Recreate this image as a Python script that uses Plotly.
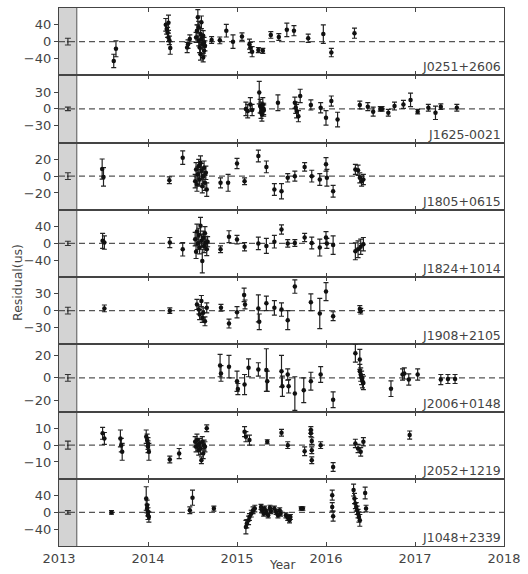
import plotly.graph_objects as go
from plotly.subplots import make_subplots

pulsars = ["J0251+2606", "J1625-0021", "J1805+0615", "J1824+1014",
           "J1908+2105", "J2006+0148", "J2052+1219", "J1048+2339"]
y_ranges = [[-80, 80], [-60, 60], [-40, 40], [-80, 80], [-60, 60], [-30, 30], [-20, 20], [-80, 80]]
y_ticks = [[-40, 0, 40], [-30, 0, 30], [-20, 0, 20], [-40, 0, 40], [-30, 0, 30], [-20, 0, 20], [-10, 0, 10], [-40, 0, 40]]
x_ticks = [2013, 2014, 2015, 2016, 2017, 2018]
band = [2013.0, 2013.2]
ref_year = 2013.1
ref_err = [8, 3, 4, 5, 6, 3, 2.4, 4]

# J0251+2606
t1 = [2013.615, 2013.64, 2014.20, 2014.21, 2014.22, 2014.23, 2014.23, 2014.24, 2014.25,
      2014.44, 2014.45, 2014.47,
      2014.54, 2014.55, 2014.56, 2014.57, 2014.57, 2014.58, 2014.59, 2014.59, 2014.60, 2014.60,
      2014.61, 2014.62, 2014.62, 2014.63, 2014.63, 2014.64,
      2014.715, 2014.807, 2014.88, 2014.955, 2015.056, 2015.14, 2015.15, 2015.17, 2015.24, 2015.29,
      2015.38, 2015.47, 2015.56, 2015.64, 2015.80, 2015.97, 2016.06, 2016.32]
r1 = [-46, -17, 40, 30, 22, 45, 10, 3, -15,
      -14, -6, 6,
      10, 26, 58, 2, 34, -14, 18, -30, 46, 6, -6, 14, -38, -2, -22, -10,
      4, 3, 26, 0, 12, -6, -14, -24, -20, -22, 16, 11, 28, 26, 8, 18, -26, 20]
e1 = [16, 19, 15, 12, 12, 18, 10, 10, 15,
      12, 10, 10,
      12, 14, 18, 12, 14, 12, 12, 14, 15, 12, 12, 12, 10, 12, 12, 12,
      8, 8, 15, 16, 9, 12, 12, 12, 6, 6, 8, 8, 16, 12, 10, 22, 10, 12]

# J1625-0021
t2 = [2015.10, 2015.12, 2015.15, 2015.17,
      2015.25, 2015.26, 2015.27, 2015.27, 2015.28, 2015.29, 2015.30, 2015.30,
      2015.46, 2015.65, 2015.66, 2015.67, 2015.69, 2015.71, 2015.83, 2015.94, 2016.00, 2016.06, 2016.13,
      2016.38, 2016.47, 2016.53, 2016.61, 2016.63, 2016.70, 2016.77, 2016.87, 2016.95, 2017.03,
      2017.15, 2017.23, 2017.29, 2017.47]
r2 = [0, -4, 8, -2,
      29, 5, -5, 2, -10, 8, -3, 0,
      11, 11, 2, -4, -13, 23, 7, 2, -16, 14, -19,
      7, 4, -5, 0, 0, -7, 5, 8, 16, -5, 2, -7, 4, 2]
e2 = [12, 12, 12, 10,
      20, 12, 12, 10, 12, 12, 10, 10,
      14, 10, 10, 12, 10, 12, 9, 9, 13, 9, 13,
      7, 7, 8, 4, 4, 6, 7, 7, 12, 4, 6, 12, 5, 6]

# J1805+0615
t3 = [2013.485, 2013.50, 2014.24, 2014.39,
      2014.53, 2014.54, 2014.55, 2014.56, 2014.57, 2014.58, 2014.59, 2014.60, 2014.61, 2014.62,
      2014.63, 2014.64, 2014.65, 2014.66,
      2014.815, 2014.90, 2015.00, 2015.085, 2015.24, 2015.33, 2015.42, 2015.50, 2015.57, 2015.65,
      2015.76, 2015.84, 2015.93, 2016.00, 2016.01, 2016.08,
      2016.33, 2016.36, 2016.38, 2016.40, 2016.42]
r3 = [8.4, -1, -5, 22,
      -6, 8, -10, 2, 12, -4, 16, 6, -12, 0, 10, -8, 4, -16,
      -8, -8, 15, -6, 24, 11, -16, -18, -2, 0, 11, 0, -4, 14, -2, -18,
      8, 7, -2, -6, -4]
e3 = [12, 11, 4, 8,
      8, 8, 8, 9, 8, 8, 8, 9, 8, 9, 8, 9, 8, 8,
      6, 10, 6, 4, 7, 7, 7, 9, 5, 6, 5, 7, 7, 8, 10, 7,
      6, 6, 6, 6, 6]

# J1824+1014
t4 = [2013.49, 2013.51, 2014.245, 2014.39,
      2014.53, 2014.54, 2014.55, 2014.56, 2014.57, 2014.58, 2014.59, 2014.60, 2014.61, 2014.62,
      2014.63, 2014.64, 2014.65, 2014.66, 2014.67,
      2014.815, 2014.91, 2015.00, 2015.085, 2015.24, 2015.33, 2015.42, 2015.50, 2015.57, 2015.65,
      2015.76, 2015.84, 2015.93, 2016.00, 2016.01, 2016.08,
      2016.33, 2016.36, 2016.39, 2016.42]
r4 = [6, 2, 2, -14,
      10, -20, 28, 0, 20, -10, 42, 6, -42, 14, -6, 24, 2, -14, 4,
      -14, 16, 9, -8, 0, -6, 4, 33, 0, 1, 14, 1, -10, 14, 0, -4,
      -19, -14, -8, -2]
e4 = [18, 16, 12, 16,
      16, 16, 18, 15, 16, 15, 20, 15, 28, 15, 16, 16, 15, 15, 12,
      8, 14, 10, 10, 15, 18, 15, 11, 9, 8, 10, 14, 20, 14, 12, 22,
      20, 20, 18, 16]

# J1908+2105
t5 = [2013.51, 2014.245,
      2014.55, 2014.57, 2014.58, 2014.60, 2014.61, 2014.62, 2014.64, 2014.66,
      2014.82, 2014.91, 2015.00, 2015.08, 2015.09, 2015.24, 2015.25, 2015.33, 2015.42, 2015.50,
      2015.57, 2015.65, 2015.83, 2015.93, 2016.00, 2016.08,
      2016.38, 2016.39]
r5 = [4, 0,
      11, 2, -7, 17, -13, -4, -19, 5,
      5, -23, -3, 28, 11, 4, -20, 13, 5, 2, -17, 43, 15, -5, 34, -10,
      3, -1]
e5 = [6, 5,
      9, 8, 9, 10, 8, 9, 8, 9,
      6, 8, 10, 12, 8, 24, 14, 13, 13, 12, 17, 12, 15, 27, 16, 8,
      6, 5]

# J2006+0148
t6 = [2014.81, 2014.82, 2014.91, 2015.00, 2015.01, 2015.085, 2015.13, 2015.24, 2015.33, 2015.34,
      2015.50, 2015.51, 2015.57, 2015.58, 2015.65, 2015.75, 2015.83, 2015.94, 2016.08,
      2016.33, 2016.38, 2016.38, 2016.39, 2016.40, 2016.41, 2016.42,
      2016.73, 2016.86, 2016.88, 2016.93, 2017.03, 2017.29, 2017.37, 2017.45]
r6 = [11, 4, 10, -3, -10, -6, 9, 7.5, 7, -3, 6, -7.5, 3, -7.5, -14, -11, -3, 3, -19.5,
      22, 16.5, 6, 3, 0, -3, -4.5,
      -9.6, 3, 4, -1.5, 3, -1.5, -1, -1]
e6 = [10, 7, 10, 9, 5, 9, 8, 6, 19, 9, 14, 9, 5, 6, 15, 11, 8, 7, 7,
      8, 9, 6, 6, 6, 6, 6,
      7, 5, 5, 5, 5, 4.5, 4, 4]

# J2052+1219
t7 = [2013.49, 2013.51, 2013.69, 2013.70, 2013.71, 2013.98, 2013.99, 2014.00, 2014.00, 2014.01,
      2014.245, 2014.35,
      2014.53, 2014.54, 2014.55, 2014.56, 2014.57, 2014.58, 2014.59, 2014.60, 2014.61, 2014.62,
      2014.63, 2014.64, 2014.66,
      2015.085, 2015.10, 2015.14, 2015.34, 2015.50, 2015.57, 2015.76, 2015.83, 2015.83, 2015.84,
      2015.84, 2015.84, 2015.94, 2016.08,
      2016.33, 2016.36, 2016.39, 2016.42, 2016.94]
r7 = [7, 4, 4, 0, -4, 5, 3, 1, -1, -4, -8.6, -5,
      2, -1, 3, 0, -3, 1, -2, -9, 2, -5, 0, -1, 10,
      8, 5, 3, 2, 7.4, 0, -3.6, 9, 7, 2.4, -3, -9, 0, -13,
      1, -2, -4, 2, 6]
e7 = [3.5, 3.5, 5, 4, 5, 4, 3.5, 3.5, 3.5, 5, 2, 3,
      3, 3, 3.5, 3, 3, 3, 3.5, 2, 3, 3, 3, 3, 2,
      3, 3, 3, 1.2, 2, 2, 2.6, 2, 2, 2, 2, 2, 2, 2.6,
      2.5, 2.5, 2.5, 2.5, 2.4]

# J1048+2339
t8 = [2013.59, 2013.98, 2013.99, 2013.99, 2014.00, 2014.00, 2014.01, 2014.47, 2014.50, 2014.74,
      2015.10, 2015.11, 2015.13, 2015.14, 2015.16, 2015.18, 2015.20,
      2015.27, 2015.28, 2015.30, 2015.31, 2015.33, 2015.35, 2015.37, 2015.38,
      2015.42, 2015.44, 2015.46, 2015.48, 2015.49,
      2015.55, 2015.57, 2015.59, 2015.60,
      2015.72, 2015.74,
      2016.07, 2016.07, 2016.08,
      2016.31, 2016.32, 2016.33, 2016.34, 2016.35, 2016.36, 2016.37, 2016.38,
      2016.44, 2016.45]
r8 = [0, 33, 17, 9, 1, -7, -11, 5, 35, 9,
      -35, -27, -19, -11, -3, 5, 9,
      13, 5, -3, 9, 1, -7, 11, 3,
      9, 1, -7, 5, -3,
      -7, -13, -19, -11,
      9, 9,
      41, 13, -9,
      53, 33, 21, 13, 5, -3, -11, -19,
      46, 9]
e8 = [4, 28, 12, 10, 10, 10, 12, 8, 18, 6,
      16, 10, 10, 8, 8, 8, 8,
      6, 6, 6, 6, 6, 6, 6, 6,
      6, 6, 6, 6, 6,
      6, 6, 6, 6,
      4, 4,
      12, 10, 12,
      14, 12, 12, 10, 10, 10, 12, 14,
      14, 8]

times = [t1, t2, t3, t4, t5, t6, t7, t8]
resids = [r1, r2, r3, r4, r5, r6, r7, r8]
errs = [e1, e2, e3, e4, e5, e6, e7, e8]

FONT = "DejaVu Sans"
AXC = "#444444"
n = len(pulsars)

fig = make_subplots(rows=n, cols=1, shared_xaxes=True, vertical_spacing=0)

shapes = []
for i in range(n):
    row = i + 1
    xr = "x" if row == 1 else f"x{row}"
    yr = "y" if row == 1 else f"y{row}"
    # grey band
    shapes.append(dict(type="rect", xref=xr, yref=yr + " domain", x0=band[0], x1=band[1], y0=0, y1=1,
                       fillcolor="#d3d3d3", line=dict(width=0), layer="below"))
    shapes.append(dict(type="line", xref=xr, yref=yr + " domain", x0=band[1], x1=band[1], y0=0, y1=1,
                       line=dict(color="#555555", width=1), layer="below"))
    # zero line
    shapes.append(dict(type="line", xref=xr + " domain", yref=yr, x0=0, x1=1, y0=0, y1=0,
                       line=dict(color="#555555", width=1.2, dash="6px,4px"), layer="below"))
    fig.add_trace(go.Scatter(
        x=times[i], y=resids[i], mode="markers",
        marker=dict(color="#111111", size=4.5, symbol="circle"),
        error_y=dict(type="data", array=errs[i], visible=True, color="#222222", thickness=1.2, width=2.5),
        showlegend=False), row=row, col=1)
    fig.add_trace(go.Scatter(
        x=[ref_year], y=[0], mode="markers",
        marker=dict(color="#333333", size=2),
        error_y=dict(type="data", array=[ref_err[i]], visible=True, color="#333333", thickness=1.2, width=3),
        showlegend=False), row=row, col=1)
    yname = "yaxis" if row == 1 else f"yaxis{row}"
    fig.layout[yname].update(
        range=y_ranges[i], tickvals=y_ticks[i], ticks="outside", ticklen=4, tickwidth=1.2,
        tickcolor=AXC, showline=True, linecolor=AXC, linewidth=1.3, mirror=True,
        showgrid=False, zeroline=False, tickfont=dict(family=FONT, size=13, color=AXC))
    # right-hand inward ticks
    fig.layout[f"yaxis{n + row}"] = dict(
        overlaying=yr, side="right", anchor=xr,
        range=y_ranges[i], tickvals=y_ticks[i], ticks="inside", ticklen=4, tickwidth=1.2,
        tickcolor=AXC, showticklabels=False, showgrid=False, zeroline=False, showline=False)
    xname = "xaxis" if row == 1 else f"xaxis{row}"
    fig.layout[xname].update(
        range=[2013, 2018], tickvals=x_ticks, ticks="inside", ticklen=4, tickwidth=1.2,
        tickcolor=AXC, showline=True, linecolor=AXC, linewidth=1, mirror="ticks",
        showgrid=False, zeroline=False, tickfont=dict(family=FONT, size=13, color=AXC),
        showticklabels=(row == n))
    fig.add_annotation(
        text=pulsars[i], xref=xr + " domain", yref=yr + " domain",
        x=1, y=0, xanchor="right", yanchor="bottom", xshift=-1, yshift=-1, showarrow=False,
        font=dict(family=FONT, size=12.5, color=AXC))

fig.add_annotation(text="Residual(us)", xref="paper", yref="paper", x=-0.093, y=0.49,
                   textangle=-90, showarrow=False, xanchor="center", yanchor="middle",
                   font=dict(family=FONT, size=12.5, color=AXC))
fig.add_annotation(text="Year", xref="paper", yref="paper", x=0.5, y=-0.036,
                   showarrow=False, xanchor="center", yanchor="middle",
                   font=dict(family=FONT, size=12, color=AXC))

fig.update_layout(width=528, height=574, margin=dict(l=59, r=19, t=7, b=28),
                  paper_bgcolor="white", plot_bgcolor="white", shapes=shapes,
                  font=dict(family=FONT, color=AXC))

fig.write_html("out.html", config={"displayModeBar": False},
               post_script="document.body.style.margin='0';document.body.style.padding='0';")
